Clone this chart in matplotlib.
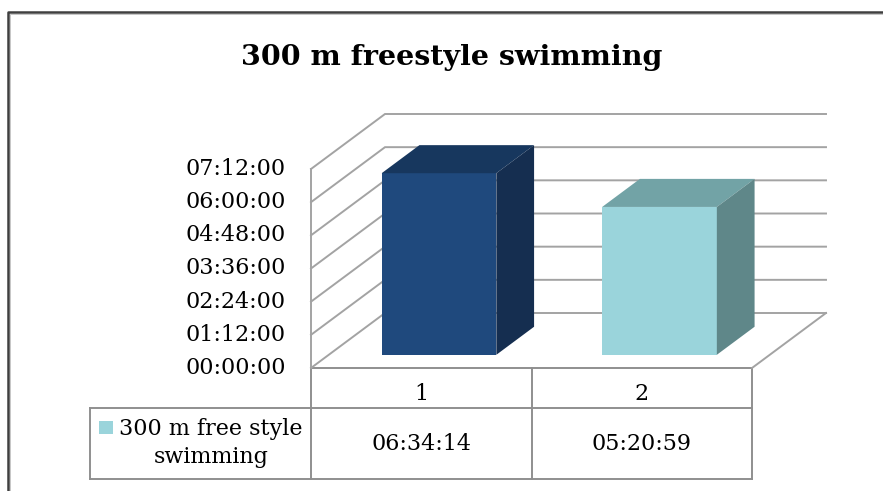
import numpy as np
import matplotlib as mpl
mpl.use('Agg')
import matplotlib.pyplot as plt
from matplotlib.patches import Polygon, Rectangle
from matplotlib.transforms import blended_transform_factory

mpl.rcParams['font.family'] = 'DejaVu Serif'

# data
categories = ['1', '2']
times = ['06:34:14', '05:20:59']
series_name = '300 m free style\nswimming'
title = '300 m freestyle swimming'
tick_labels = ['00:00:00', '01:12:00', '02:24:00', '03:36:00',
               '04:48:00', '06:00:00', '07:12:00']


def to_hours(s):
    h, m, sec = [int(p) for p in s.split(':')]
    return h + m / 60. + sec / 3600.


values = np.array([to_hours(t) for t in times])
ticks = np.array([to_hours(t) for t in tick_labels])

# colours (front, top, side)
face_colors = [('#1F497D', '#17375E', '#152E50'),
               ('#9AD4DB', '#72A3A6', '#5F8789')]
grid_col = '#A3A3A3'
line_col = '#8F8F8F'

W, H = 883, 491
fig = plt.figure(figsize=(W / 100., H / 100.), dpi=100)

# background axes in pixel coordinates (frame, title, table)
bg = fig.add_axes([0, 0, 1, 1])
bg.set_xlim(0, W)
bg.set_ylim(H, 0)
bg.axis('off')

# chart axes = front plane of the 3d box
x0, x1 = 311, 752
y_floor, y_top = 368, 169
ax = fig.add_axes([x0 / W, (H - y_floor) / H, (x1 - x0) / W,
                   (y_floor - y_top) / H])
ax.set_xlim(0, len(categories))
ax.set_ylim(0, ticks[-1])
ax.axis('off')

px_per_cat = (x1 - x0) / len(categories)
px_per_h = (y_floor - y_top) / ticks[-1]
DX = 74 / px_per_cat
DY = 55 / px_per_h
nc = len(categories)

# outer frame
bg.plot([8, 8, W + 5], [H + 5, 12, 12], color='#3F3F3F', lw=1.8,
        solid_capstyle='butt', clip_on=False)
bg.plot([9.8, 9.8, W + 5], [H + 5, 13.8, 13.8], color='#BDBDBD', lw=0.6,
        clip_on=False)

# title
bg.text(452, 57, title, ha='center', va='center', fontsize=20.5,
        fontweight='bold')

# walls and gridlines
for v in ticks:
    ax.plot([0, DX, nc + DX], [v, v + DY, v + DY], color=grid_col, lw=1.4,
            clip_on=False, zorder=1, solid_joinstyle='miter')
ax.plot([0, 0], [0, ticks[-1]], color=grid_col, lw=1.4, clip_on=False,
        zorder=1)
ax.plot([nc, nc + DX], [0, DY], color=grid_col, lw=1.4, clip_on=False,
        zorder=1)

# y tick labels
ty = blended_transform_factory(bg.transData, ax.transData)
for v, lab in zip(ticks, tick_labels):
    ax.text(286, v, lab, transform=ty, ha='right', va='center', fontsize=16)

# bars
d0, d1 = 0.24, 0.75
bw = 0.52
for i, v in enumerate(values):
    c = i + 0.5
    l, r = c - bw / 2, c + bw / 2
    front, top, side = face_colors[i]
    fx, fy = d0 * DX, d0 * DY
    bx, by = d1 * DX, d1 * DY
    ax.add_patch(Polygon([(l + fx, fy), (r + fx, fy), (r + fx, v + fy),
                          (l + fx, v + fy)], closed=True, fc=front, ec='none',
                         zorder=3, clip_on=False))
    ax.add_patch(Polygon([(l + fx, v + fy), (r + fx, v + fy),
                          (r + bx, v + by), (l + bx, v + by)], closed=True,
                         fc=top, ec='none', zorder=3, clip_on=False))
    ax.add_patch(Polygon([(r + fx, fy), (r + bx, by), (r + bx, v + by),
                          (r + fx, v + fy)], closed=True, fc=side, ec='none',
                         zorder=3, clip_on=False))

# data table
y_head, y_row, y_bot = 368, 408, 479
x_leg = 90
bg.plot([x0, x1], [y_head, y_head], color=line_col, lw=1.4)
bg.plot([x_leg, x1], [y_row, y_row], color=line_col, lw=1.4)
bg.plot([x_leg, x1], [y_bot, y_bot], color=line_col, lw=1.4)
bg.plot([x_leg, x_leg], [y_row, y_bot], color=line_col, lw=1.4)
for k in range(nc + 1):
    xx = x0 + k * px_per_cat
    bg.plot([xx, xx], [y_head, y_bot], color=line_col, lw=1.4)

tx = blended_transform_factory(ax.transData, bg.transData)
for i, (cat, t) in enumerate(zip(categories, times)):
    ax.text(i + 0.5, 394, cat, transform=tx, ha='center', va='center',
            fontsize=16)
    ax.text(i + 0.5, 444, t, transform=tx, ha='center', va='center',
            fontsize=16)

# legend key
bg.add_patch(Rectangle((99, 421), 14, 13, fc=face_colors[1][0], ec='none'))
bg.text(211, 443, series_name, ha='center', va='center', fontsize=16,
        multialignment='center', linespacing=1.4)

fig.savefig('out.png', dpi=100)
